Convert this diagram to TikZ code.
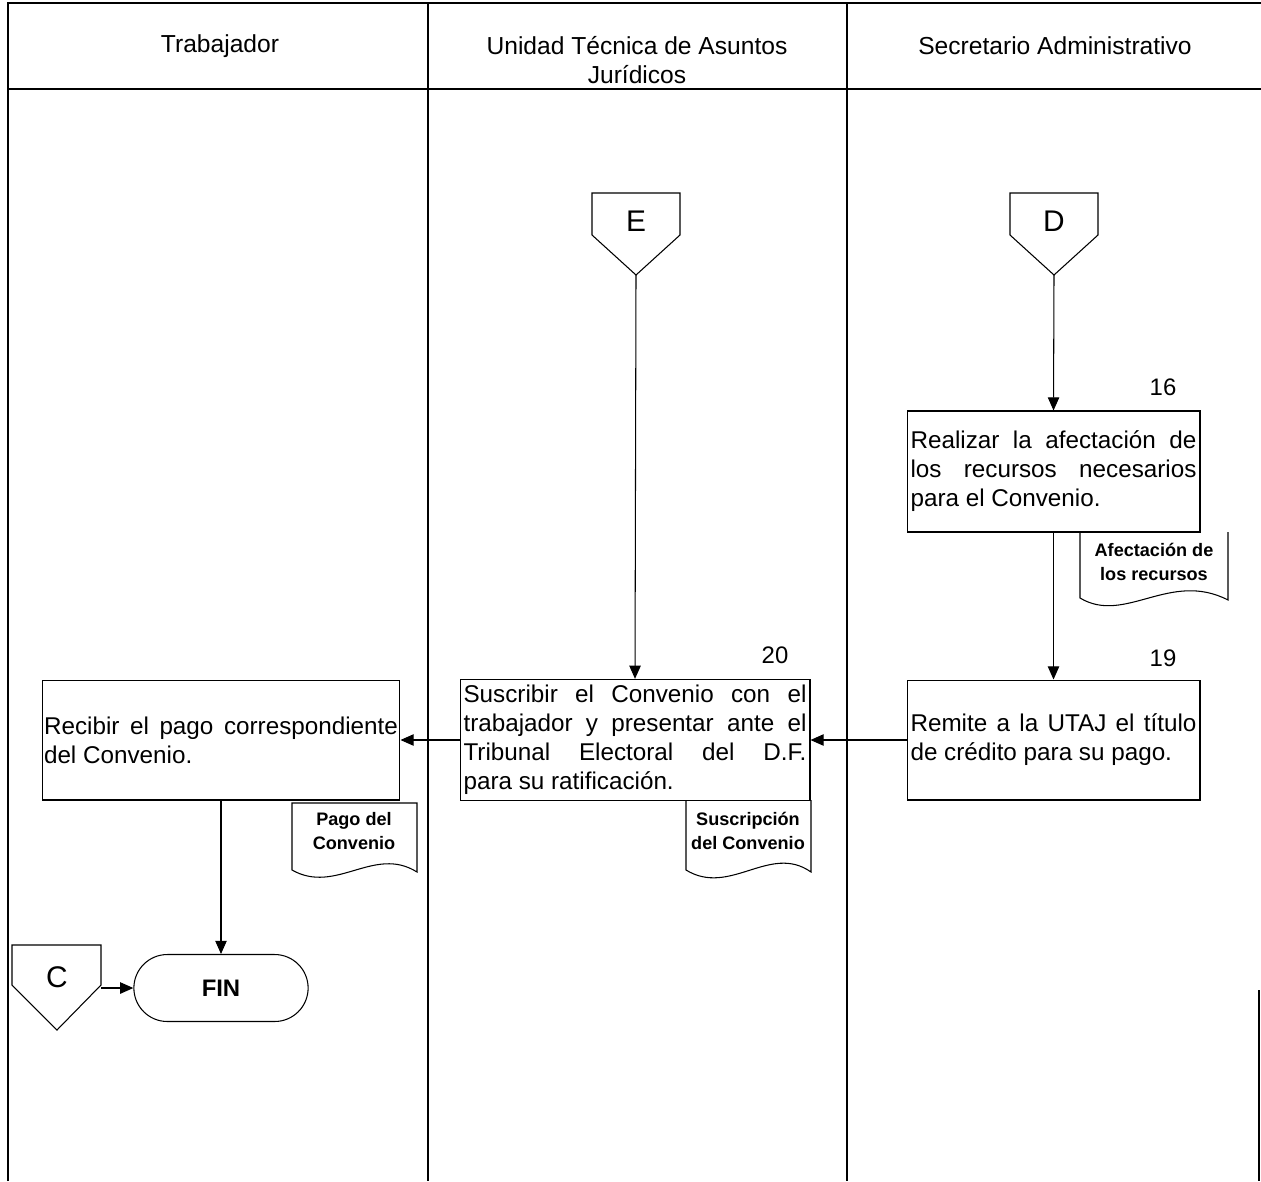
\documentclass[tikz,border=0pt]{standalone}
\usepackage{fontspec}
\setmainfont{Liberation Sans}
\usetikzlibrary{arrows.meta,shapes.misc,calc}

\hyphenpenalty=10000
\exhyphenpenalty=10000

\tikzset{
    flecha/.style={-{Triangle[length=7.5pt,width=6.5pt]}, line width=0.6pt},
    caja/.style={rectangle, draw, line width=0.6pt, minimum width=5.86cm, minimum height=2.4cm, inner xsep=0.07cm, align=justify, font=\fontsize{13.8}{16.5}\selectfont},
    docto/.style={inner sep=0pt, align=center, font=\fontsize{10.3}{13.6}\selectfont\bfseries},
    carril/.style={font=\fontsize{14}{16.4}\selectfont, align=center},
    numero/.style={font=\fontsize{13.6}{16}\selectfont},
    letra/.style={font=\fontsize{17}{18}\selectfont}
}

\begin{document}
\begin{tikzpicture}[x=0.02cm, y=-0.02cm]
    \useasboundingbox (0,0) rectangle (1261,1181);

    % marco y carriles
    \draw[line width=0.8pt] (8,1181) -- (8,3) -- (1261,3);
    \draw[line width=0.8pt] (8,89) -- (1261,89);
    \draw[line width=0.6pt] (428,3) -- (428,1181);
    \draw[line width=0.6pt] (847,3) -- (847,1181);
    \draw[line width=0.6pt] (1259,990) -- (1259,1181);

    \node[carril] (trab) at (220,46) {Trabajador};
    \node[carril] (utaj) at (637,60) {Unidad Técnica de Asuntos\\Jurídicos};
    \node[carril] (secr) at (1055,46) {Secretario Administrativo};

    % conectores de pagina
    \draw[line width=0.6pt] (592,193) -- (680,193) -- (680,235) -- (636,275) -- (592,235) -- cycle;
    \coordinate (Etip) at (636,275);
    \node[letra] (E) at (636,221) {E};

    \draw[line width=0.6pt] (1010,193) -- (1098,193) -- (1098,235) -- (1054,275) -- (1010,235) -- cycle;
    \coordinate (Dtip) at (1054,275);
    \node[letra] (D) at (1054,221) {D};

    \draw[line width=0.6pt] (12,945) -- (101,945) -- (101,985) -- (57,1030) -- (12,985) -- cycle;
    \coordinate (Cout) at (101,988);
    \node[letra] (C) at (57,977) {C};

    % actividades
    \node[caja, minimum height=2.42cm, text width=5.72cm] (a16) at (1053.5,471.5) {Realizar la afectación de\linebreak los recursos necesarios\linebreak para el Convenio.};
    \node[numero] (n16) at (1163,387) {16};

    \node[caja, text width=5.72cm] (a19) at (1053.5,740) {Remite a la UTAJ el título\linebreak de crédito para su pago.};
    \node[numero] (n19) at (1163,658) {19};

    \node[caja, minimum width=7.0cm, text width=6.86cm] (a20) at (635,740) {Suscribir el Convenio con el\linebreak trabajador y presentar ante el\linebreak Tribunal Electoral del D.F.\linebreak para su ratificación.};
    \node[numero] (n20) at (775,655) {20};

    \node[caja, minimum width=7.16cm, inner xsep=0.04cm, text width=7.08cm] (a21) at (221,740) {Recibir el pago correspondiente\linebreak del Convenio.};

    \node[rounded rectangle, draw, line width=0.6pt, minimum width=3.72cm, minimum height=1.34cm, font=\fontsize{13.6}{16}\selectfont\bfseries] (fin) at (221,988) {FIN};

    % documentos
    \node[docto] (doc16) at (1154,562) {Afectación de\\los recursos};
    \draw[line width=0.6pt] (1080,532) -- (1080,598) .. controls (1125,625) and (1170,570) .. (1228,600) -- (1228,532);

    \node[docto] (doc20) at (748,831) {Suscripción\\del Convenio};
    \draw[line width=0.6pt] (686,800) -- (686,870) .. controls (730,897) and (770,843) .. (811,872) -- (811,800);

    \node[docto] (doc21) at (354,831) {Pago del\\Convenio};
    \draw[line width=0.6pt] (292,803) -- (292,870) .. controls (336,895) and (374,845) .. (417,872) -- (417,803) -- cycle;

    % flujo
    \draw[flecha] (Etip) -- (a20.north);
    \draw[flecha] (Dtip) -- (a16.north);
    \draw[flecha] (a16.south) -- (a19.north);
    \draw[flecha] (a19.west) -- (a20.east);
    \draw[flecha] (a20.west) -- (a21.east);
    \draw[flecha] (a21.south) -- (fin.north);
    \draw[flecha] (Cout) -- (fin.west);
\end{tikzpicture}
\end{document}
